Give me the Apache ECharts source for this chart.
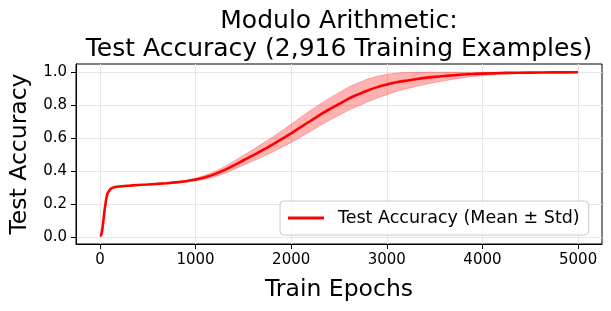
<!DOCTYPE html>
<html>
<head>
<meta charset="utf-8">
<script src="https://cdn.jsdelivr.net/npm/echarts@6/dist/echarts.min.js"></script>
<style>
html,body{margin:0;padding:0;background:#fff;}
#chart{width:611px;height:311px;}
</style>
</head>
<body>
<div id="chart"></div>
<script>
var titleText = 'Modulo Arithmetic:\nTest Accuracy (2,916 Training Examples)';
var xName = 'Train Epochs';
var yName = 'Test Accuracy';
var seriesName = 'Test Accuracy (Mean ± Std)';
var xTicks = [0, 1000, 2000, 3000, 4000, 5000];
var yTicks = [0, 0.2, 0.4, 0.6, 0.8, 1.0];

var epochs = [0, 10, 20, 30, 40, 50, 60, 70, 80, 100, 125, 150, 200, 300, 400, 500, 600, 700, 800, 900,
  1000, 1100, 1200, 1300, 1400, 1500, 1600, 1700, 1800, 1900,
  2000, 2100, 2200, 2300, 2400, 2500, 2600, 2700, 2800, 2900,
  3000, 3100, 3200, 3300, 3400, 3500, 3600, 3700, 3800, 3900,
  4000, 4250, 4500, 4750, 5000];
var meanAcc = [0.010, 0.012, 0.030, 0.070, 0.120, 0.170, 0.210, 0.245, 0.265, 0.285, 0.298, 0.303, 0.308, 0.313, 0.317, 0.320, 0.324, 0.328, 0.333, 0.340,
  0.350, 0.364, 0.383, 0.407, 0.436, 0.467, 0.497, 0.528, 0.560, 0.595,
  0.630, 0.668, 0.705, 0.742, 0.776, 0.808, 0.840, 0.866, 0.890, 0.910,
  0.926, 0.939, 0.949, 0.958, 0.966, 0.972, 0.977, 0.982, 0.986, 0.989,
  0.992, 0.996, 0.998, 0.999, 1.000];
var stdAcc = [0.002, 0.002, 0.002, 0.002, 0.002, 0.002, 0.002, 0.002, 0.002, 0.002, 0.002, 0.002, 0.002, 0.002, 0.002, 0.002, 0.003, 0.003, 0.003, 0.005,
  0.008, 0.012, 0.016, 0.020, 0.025, 0.030, 0.035, 0.040, 0.045, 0.050,
  0.056, 0.060, 0.063, 0.065, 0.067, 0.069, 0.070, 0.070, 0.069, 0.066,
  0.062, 0.056, 0.050, 0.045, 0.040, 0.034, 0.029, 0.024, 0.019, 0.015,
  0.012, 0.006, 0.003, 0.002, 0.001];

var lowerAcc = meanAcc.map(function (m, i) { return m - stdAcc[i]; });
var upperAcc = meanAcc.map(function (m, i) { return Math.min(1, m + stdAcc[i]); });
var meanData = epochs.map(function (e, i) { return [e, meanAcc[i]]; });

var FONT = 'DejaVu Sans';
var chart = echarts.init(document.getElementById('chart'), null, {renderer: 'canvas'});
chart.setOption({
  animation: false,
  backgroundColor: '#ffffff',
  title: {
    text: titleText,
    left: 339,
    top: 7,
    padding: 0,
    textAlign: 'center',
    textStyle: {fontFamily: FONT, fontSize: 25, fontWeight: 'normal', color: '#000', lineHeight: 28}
  },
  legend: {
    data: [seriesName],
    left: 280,
    top: 201,
    padding: [8, 9, 8, 8],
    icon: 'rect',
    itemWidth: 36,
    itemHeight: 3,
    backgroundColor: 'rgba(255,255,255,0.8)',
    borderColor: '#cccccc',
    borderWidth: 1,
    borderRadius: 4,
    textStyle: {fontFamily: FONT, fontSize: 17.5, color: '#000', padding: [0, 0, 0, 9]}
  },
  grid: {
    left: 76, right: 9, top: 64, bottom: 67,
    show: true, borderColor: '#000', borderWidth: 1,
    containLabel: false, outerBoundsMode: 'none'
  },
  xAxis: {
    type: 'value',
    min: -250, max: 5250,
    name: xName,
    nameLocation: 'middle',
    nameGap: 34,
    nameTextStyle: {fontFamily: FONT, fontSize: 23.5, color: '#000'},
    axisLine: {show: true, onZero: false, lineStyle: {color: '#000', width: 1}},
    axisTick: {show: true, length: 5, customValues: xTicks, lineStyle: {color: '#000'}},
    axisLabel: {customValues: xTicks, margin: 9, fontFamily: FONT, fontSize: 15, color: '#000',
      formatter: function (v) { return String(v); }},
    splitLine: {show: true, lineStyle: {color: '#e6e6e6', width: 1}}
  },
  yAxis: {
    type: 'value',
    min: -0.04, max: 1.05,
    name: yName,
    nameLocation: 'middle',
    nameRotate: 90,
    nameGap: 44,
    nameTextStyle: {fontFamily: FONT, fontSize: 23.5, color: '#000'},
    axisLine: {show: true, onZero: false, lineStyle: {color: '#000', width: 1}},
    axisTick: {show: true, length: 5, customValues: yTicks, lineStyle: {color: '#000'}},
    axisLabel: {customValues: yTicks, margin: 9, fontFamily: FONT, fontSize: 15, color: '#000',
      formatter: function (v) { return v.toFixed(1); }},
    splitLine: {show: true, lineStyle: {color: '#e6e6e6', width: 1}}
  },
  series: [
    {
      name: 'band', type: 'custom', data: meanData, silent: true, z: 1,
      renderItem: function (params, api) {
        if (params.dataIndex !== 0) { return null; }
        var pts = [];
        var i;
        for (i = 0; i < epochs.length; i++) { pts.push(api.coord([epochs[i], upperAcc[i]])); }
        for (i = epochs.length - 1; i >= 0; i--) { pts.push(api.coord([epochs[i], lowerAcc[i]])); }
        return {
          type: 'polygon',
          shape: {points: pts},
          style: {fill: 'rgba(255,0,0,0.3)', stroke: 'rgba(255,0,0,0.25)', lineWidth: 1}
        };
      }
    },
    {
      name: seriesName, type: 'line', data: meanData, symbol: 'none', smooth: 0.3,
      color: '#ff0000',
      lineStyle: {color: '#ff0000', width: 2.6}, z: 3
    }
  ]
});
</script>
</body>
</html>
